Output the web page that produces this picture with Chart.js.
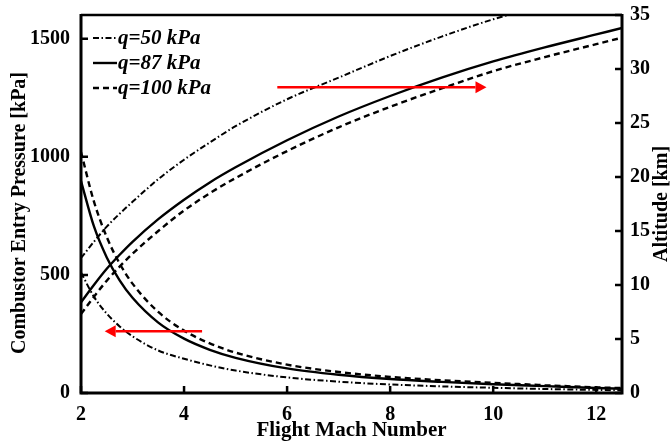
<!DOCTYPE html>
<html>
<head>
<meta charset="utf-8">
<script src="https://cdn.jsdelivr.net/npm/chart.js@4"></script>
<style>
  html, body { margin: 0; padding: 0; background: #fff; }
  #wrap { width: 670px; height: 443px; }
</style>
</head>
<body>
<div id="wrap"><canvas id="chart" width="670" height="443"></canvas></div>
<script>
// flight Mach number grid
const mach = [2, 2.25, 2.5, 2.75, 3, 3.5, 4, 4.5, 5, 6, 7, 8, 9, 10, 11, 12, 12.5];

// combustor entry pressure [kPa]
const press50 = [510, 408, 336, 282, 240, 180, 145, 117, 95, 66, 48, 36, 28, 22, 17, 13, 11];
const press87 = [897, 706, 574, 477, 403, 298, 230, 183, 149, 104, 77, 59, 47, 37, 29, 21, 18];
const press100 = [1020, 811, 660, 548, 463, 343, 264, 210, 171, 120, 89, 68, 54, 43, 33, 24, 21];

// altitude [km]
const alt50 = [12.5, 14.0, 15.4, 16.6, 17.7, 19.8, 21.6, 23.2, 24.7, 27.2, 29.2, 31.2, 33.0, 34.6, 35.9, null, null];
const alt87 = [8.4, 10.0, 11.5, 12.8, 14.0, 16.1, 17.9, 19.5, 20.9, 23.4, 25.6, 27.5, 29.2, 30.7, 32.0, 33.2, 33.8];
const alt100 = [7.3, 8.9, 10.4, 11.7, 12.9, 15.0, 16.9, 18.5, 19.9, 22.4, 24.6, 26.5, 28.2, 29.8, 31.1, 32.3, 32.9];

const seriesLabels = ['q=50 kPa', 'q=87 kPa', 'q=100 kPa'];

const xTicks = [2, 4, 6, 8, 10, 12];
const pressTicks = [0, 500, 1000, 1500];
const altTicks = [0, 5, 10, 15, 20, 25, 30, 35];

// red arrows, in data units: [fromMach, toMach, level, axis]
const arrowPress = [4.35, 2.46, 261, 'y'];
const arrowAlt = [5.81, 9.87, 28.3, 'y1'];

const styles = [
  { dash: [6, 2.5, 1.5, 2.5], width: 2 },
  { dash: [], width: 2.4 },
  { dash: [6, 4], width: 2.4 }
];

function pts(ys) {
  return mach.map((m, i) => ({ x: m, y: ys[i] }));
}

const datasets = [];
[press50, press87, press100].forEach((p, i) => {
  datasets.push({ label: seriesLabels[i], data: pts(p), yAxisID: 'y' });
});
[alt50, alt87, alt100].forEach((a, i) => {
  datasets.push({ label: seriesLabels[i], data: pts(a), yAxisID: 'y1' });
});
datasets.forEach((d, i) => {
  const s = styles[i % 3];
  d.borderColor = '#000';
  d.borderWidth = s.width;
  d.borderDash = s.dash;
  d.pointRadius = 0;
  d.fill = false;
  d.cubicInterpolationMode = 'monotone';
  d.spanGaps = false;
});

const serif = 'Liberation Serif, Times New Roman, serif';

function arrow(ctx, x0, x1, y) {
  const dir = Math.sign(x1 - x0);
  const head = 11;
  ctx.strokeStyle = '#ff0000';
  ctx.fillStyle = '#ff0000';
  ctx.lineWidth = 2.5;
  ctx.beginPath();
  ctx.moveTo(x0, y);
  ctx.lineTo(x1 - dir * head, y);
  ctx.stroke();
  ctx.beginPath();
  ctx.moveTo(x1, y);
  ctx.lineTo(x1 - dir * head, y - 6);
  ctx.lineTo(x1 - dir * head, y + 6);
  ctx.closePath();
  ctx.fill();
}

const deco = {
  id: 'deco',
  afterDraw(chart) {
    const { ctx, chartArea: a, scales } = chart;
    ctx.save();

    // frame
    ctx.strokeStyle = '#000';
    ctx.lineWidth = 2.5;
    ctx.beginPath();
    ctx.moveTo(a.left, a.top);
    ctx.lineTo(a.right, a.top);
    ctx.stroke();
    ctx.lineWidth = 3;
    ctx.beginPath();
    ctx.moveTo(a.left, a.top - 1);
    ctx.lineTo(a.left, a.bottom);
    ctx.lineTo(a.right, a.bottom);
    ctx.lineTo(a.right, a.top - 1);
    ctx.stroke();

    // inward ticks
    ctx.lineWidth = 2.5;
    ctx.beginPath();
    xTicks.forEach(v => {
      const px = scales.x.getPixelForValue(v);
      ctx.moveTo(px, a.bottom);
      ctx.lineTo(px, a.bottom - 7);
    });
    pressTicks.forEach(v => {
      const py = scales.y.getPixelForValue(v);
      ctx.moveTo(a.left, py);
      ctx.lineTo(a.left + 7, py);
    });
    altTicks.forEach(v => {
      const py = scales.y1.getPixelForValue(v);
      ctx.moveTo(a.right, py);
      ctx.lineTo(a.right - 7, py);
    });
    ctx.stroke();

    // arrows
    [arrowPress, arrowAlt].forEach(ar => {
      const y = scales[ar[3]].getPixelForValue(ar[2]);
      arrow(ctx, scales.x.getPixelForValue(ar[0]), scales.x.getPixelForValue(ar[1]), y);
    });

    // legend
    ctx.font = 'italic bold 21px ' + serif;
    ctx.textBaseline = 'middle';
    ctx.textAlign = 'left';
    ctx.fillStyle = '#000';
    seriesLabels.forEach((lab, i) => {
      const y = a.top + 23 + i * 25;
      const ds = chart.data.datasets[i];
      ctx.strokeStyle = '#000';
      ctx.lineWidth = ds.borderWidth;
      ctx.setLineDash(ds.borderDash);
      ctx.beginPath();
      ctx.moveTo(a.left + 12, y);
      ctx.lineTo(a.left + 36, y);
      ctx.stroke();
      ctx.setLineDash([]);
      ctx.fillText(lab, a.left + 37, y + 1);
    });

    // axis titles
    ctx.font = 'bold 21px ' + serif;
    ctx.textAlign = 'center';
    ctx.fillText('Flight Mach Number', (a.left + a.right) / 2, 431);
    ctx.font = 'bold 20px ' + serif;
    ctx.save();
    ctx.translate(20, 213);
    ctx.rotate(-Math.PI / 2);
    ctx.fillText('Combustor Entry Pressure [kPa]', 0, 0);
    ctx.restore();
    ctx.font = 'bold 20px ' + serif;
    ctx.save();
    ctx.translate(662, 204);
    ctx.rotate(-Math.PI / 2);
    ctx.fillText('Altitude [km]', 0, 0);
    ctx.restore();

    ctx.restore();
  }
};

const tickFont = { family: serif, size: 20, weight: 'bold' };
const plain = v => String(v);

new Chart(document.getElementById('chart'), {
  type: 'line',
  data: { datasets: datasets },
  options: {
    responsive: false,
    animation: false,
    layout: { padding: { top: 13, left: 0, right: 0, bottom: 0 } },
    plugins: { legend: { display: false }, tooltip: { enabled: false } },
    scales: {
      x: {
        type: 'linear', min: 2, max: 12.5,
        grid: { display: false }, border: { display: false },
        afterBuildTicks: s => { s.ticks = xTicks.map(v => ({ value: v })); },
        afterFit: s => { s.height = 50; },
        ticks: { font: tickFont, color: '#000', padding: 2, maxRotation: 0, callback: plain }
      },
      y: {
        type: 'linear', position: 'left', min: 0, max: 1600,
        grid: { display: false }, border: { display: false },
        afterBuildTicks: s => { s.ticks = pressTicks.map(v => ({ value: v })); },
        afterFit: s => { s.width = 81; },
        ticks: { font: tickFont, color: '#000', padding: 3, callback: plain }
      },
      y1: {
        type: 'linear', position: 'right', min: 0, max: 35,
        grid: { display: false }, border: { display: false },
        afterBuildTicks: s => { s.ticks = altTicks.map(v => ({ value: v })); },
        afterFit: s => { s.width = 48; },
        ticks: { font: tickFont, color: '#000', padding: 0, callback: plain }
      }
    }
  },
  plugins: [deco]
});
</script>
</body>
</html>
